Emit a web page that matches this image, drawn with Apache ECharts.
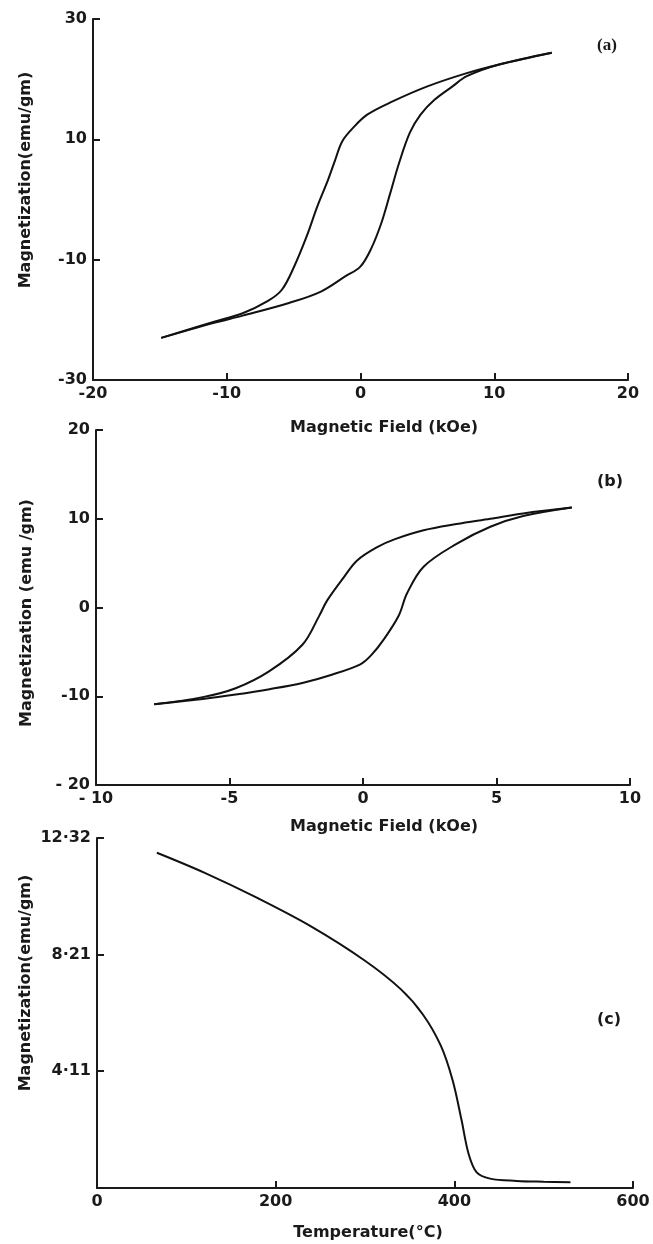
<!DOCTYPE html>
<html>
<head>
<meta charset="utf-8">
<script src="https://cdn.jsdelivr.net/npm/echarts@6/dist/echarts.min.js"></script>
<style>
html,body{margin:0;padding:0;background:#fff;}
#chart{width:653px;height:1244px;}
</style>
</head>
<body>
<div id="chart"></div>
<script>
// Panel (a): hysteresis loop, field in kOe, magnetization in emu/gm
const aDownX = [14.3, 10.3, 7.95, 5.0, 2.4, 0.5, -0.56, -1.36, -1.89, -2.42, -3.22, -4.02, -4.95, -5.88, -6.95, -8.81, -10.94, -14.9];
const aDownY = [24.4, 22.4, 21.0, 18.8, 16.3, 14.1, 11.9, 9.7, 6.6, 3.3, -1.1, -6.1, -11.1, -15.0, -16.9, -18.9, -20.3, -23.0];
const aUpX = [-14.9, -10.94, -8.81, -5.35, -2.96, -1.09, -0.03, 0.77, 1.56, 2.23, 2.89, 3.69, 4.49, 5.55, 6.88, 7.95, 10.3, 14.3];
const aUpY = [-23.0, -20.5, -19.3, -17.2, -15.3, -12.7, -11.2, -8.3, -3.9, 1.1, 6.1, 11.1, 14.1, 16.6, 18.8, 20.5, 22.4, 24.4];

// Panel (b)
const bDownX = [7.82, 6.0, 4.77, 3.5, 2.27, 1.2, 0.53, -0.22, -0.72, -1.34, -1.65, -2.27, -3.52, -4.77, -6.0, -7.82];
const bDownY = [11.26, 10.6, 10.0, 9.4, 8.7, 7.7, 6.8, 5.3, 3.4, 0.8, -1.0, -4.2, -7.2, -9.1, -10.1, -10.9];
const bUpX = [-7.82, -6.0, -4.77, -3.5, -2.27, -1.2, -0.1, 0.3, 0.8, 1.34, 1.65, 2.27, 3.52, 4.77, 6.0, 7.82];
const bUpY = [-10.9, -10.3, -9.8, -9.2, -8.5, -7.6, -6.4, -5.4, -3.5, -0.9, 1.6, 4.6, 7.2, 9.1, 10.3, 11.26];

// Panel (c): magnetization vs temperature
const cTemp = [67, 120, 180, 240, 300, 340, 365, 385, 398, 408, 416, 425, 440, 470, 500, 530];
const cMag  = [11.8, 11.1, 10.2, 9.2, 8.0, 7.0, 6.1, 5.0, 3.8, 2.4, 1.2, 0.55, 0.33, 0.25, 0.22, 0.2];

// tick labels
const aXTicks = [-20, -10, 0, 10, 20];
const aYTicks = [-30, -10, 10, 30];
const bXTicks = [-10, -5, 0, 5, 10];
const bYTicks = [-20, -10, 0, 10, 20];
const cXTicks = [0, 200, 400, 600];
const cYTicks = [4.11, 8.21, 12.32];

const zip = (xs, ys) => xs.map((x, i) => [x, ys[i]]);

const FONT = 'DejaVu Sans';
const INK = '#1a1a1a';
const lbl = {color: INK, fontFamily: FONT, fontSize: 16, fontWeight: 'bold'};
const axLine = {show: true, onZero: false, lineStyle: {color: INK, width: 2}};
const axTick = {show: true, inside: true, length: 7, lineStyle: {color: INK, width: 2}};

const neg = v => (v < 0 ? '-' + Math.abs(v) : String(v));
const negSp = big => v => (v <= -big ? '- ' + Math.abs(v) : neg(v));

function xAx(grid, min, max, ticks, fmt) {
  return {
    type: 'value', gridIndex: grid, min: min, max: max,
    axisLine: axLine,
    axisTick: Object.assign({customValues: ticks}, axTick),
    axisLabel: Object.assign({customValues: ticks, margin: 6, formatter: fmt}, lbl),
    splitLine: {show: false}
  };
}
function yAx(grid, min, max, ticks, fmt) {
  return {
    type: 'value', gridIndex: grid, min: min, max: max,
    axisLine: axLine,
    axisTick: Object.assign({customValues: ticks}, axTick),
    axisLabel: Object.assign({customValues: ticks, margin: 6, formatter: fmt}, lbl),
    splitLine: {show: false}
  };
}

const lineStyle = {color: '#111', width: 2};
function ser(xi, data) {
  return {type: 'line', xAxisIndex: xi, yAxisIndex: xi, data: data,
    showSymbol: false, smooth: 0.35, lineStyle: lineStyle, silent: true, animation: false};
}

function nameText(text, x, y, rot) {
  return {type: 'text', x: x, y: y, rotation: rot ? Math.PI / 2 : 0,
    style: {text: text, fontFamily: FONT, fontSize: 16, fontWeight: 'bold', fill: INK,
      align: 'center', verticalAlign: 'middle'}};
}

const chart = echarts.init(document.getElementById('chart'), null, {renderer: 'canvas'});
chart.setOption({
  backgroundColor: '#fff',
  animation: false,
  grid: [
    {left: 93, right: 25, top: 19, height: 361},
    {left: 96, right: 23, top: 430, height: 355},
    {left: 97, right: 20, top: 838, height: 350}
  ],
  xAxis: [
    xAx(0, -20, 20, aXTicks, neg),
    xAx(1, -10, 10, bXTicks, negSp(10)),
    xAx(2, 0, 600, cXTicks, v => String(v))
  ],
  yAxis: [
    yAx(0, -30, 30, aYTicks, neg),
    yAx(1, -20, 20, bYTicks, negSp(20)),
    yAx(2, 0, 12.32, cYTicks, v => v.toFixed(2).replace('.', '·'))
  ],
  series: [
    ser(0, zip(aDownX, aDownY)),
    ser(0, zip(aUpX, aUpY)),
    ser(1, zip(bDownX, bDownY)),
    ser(1, zip(bUpX, bUpY)),
    ser(2, zip(cTemp, cMag))
  ],
  graphic: [
    nameText('Magnetic Field (kOe)', 384, 428, false),
    nameText('Magnetic Field (kOe)', 384, 827, false),
    nameText('Temperature(°C)', 368, 1233, false),
    nameText('Magnetization(emu/gm)', 26, 180, true),
    nameText('Magnetization (emu /gm)', 27, 613, true),
    nameText('Magnetization(emu/gm)', 26, 983, true),
    {type: 'text', left: 597, top: 37, style: {text: '(a)', fontFamily: 'Liberation Serif', fontSize: 17, fontWeight: 'bold', fill: INK}},
    {type: 'text', left: 597, top: 474, style: {text: '(b)', fontFamily: FONT, fontSize: 16, fontWeight: 'bold', fill: INK}},
    {type: 'text', left: 597, top: 1012, style: {text: '(c)', fontFamily: FONT, fontSize: 16, fontWeight: 'bold', fill: INK}}
  ]
});
</script>
</body>
</html>
